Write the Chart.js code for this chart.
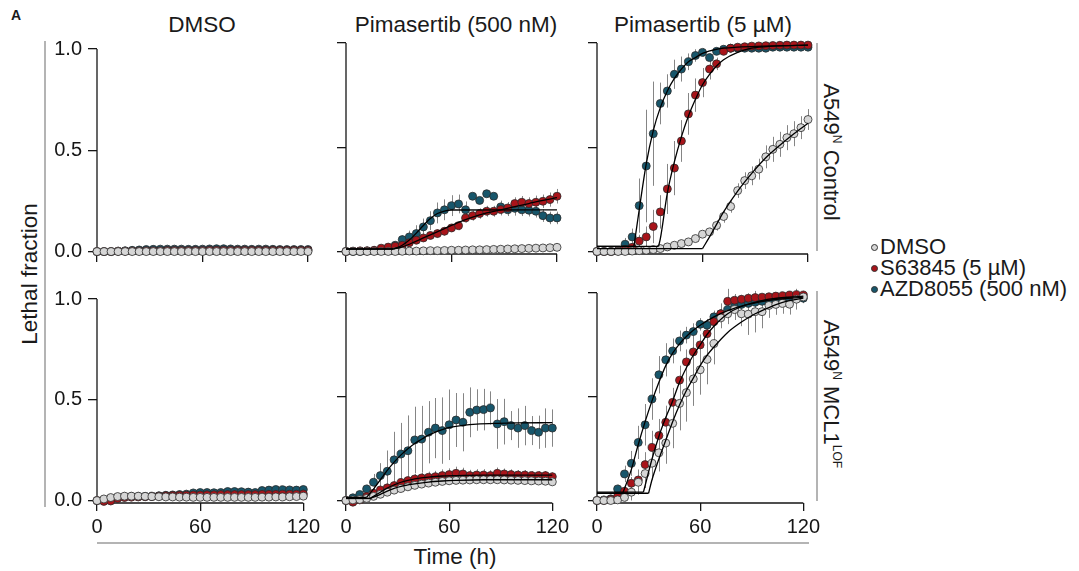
<!DOCTYPE html>
<html><head><meta charset="utf-8">
<script src="https://cdn.jsdelivr.net/npm/chart.js@4/dist/chart.umd.min.js"></script>
<style>
body{margin:0;width:1079px;height:571px;background:#fff;position:relative;overflow:hidden;font-family:"Liberation Sans",Arial,sans-serif;color:#1a1a1a}
.t{position:absolute;white-space:nowrap;line-height:1;transform:translate(-50%,-50%)}
.ln{position:absolute;background:#b4b4b4}
canvas{position:absolute}
sup{font-size:0.55em;vertical-align:0.75em;line-height:0}
.lg{position:absolute;left:871px;font-size:22px;line-height:1;white-space:nowrap}
.dot{display:inline-block;width:5px;height:5px;border-radius:50%;border:0.8px solid #333;margin-right:2px;vertical-align:3px}
</style></head><body>

<div class="t" style="left:16px;top:15px;font-weight:bold;font-size:14px">A</div>
<div class="t" style="left:202px;top:25px;font-size:22.5px">DMSO</div>
<div class="t" style="left:456px;top:25px;font-size:22.5px">Pimasertib (500 nM)</div>
<div class="t" style="left:703px;top:25px;font-size:22.5px">Pimasertib (5 µM)</div>
<div class="t" style="left:831px;top:152px;font-size:22px;transform:translate(-50%,-50%) rotate(90deg)">A549<sup>N</sup> Control</div>
<div class="t" style="left:831px;top:394px;font-size:22px;transform:translate(-50%,-50%) rotate(90deg)">A549<sup>N</sup> MCL1<sup>LOF</sup></div>
<div class="t" style="left:30px;top:274px;font-size:22.5px;transform:translate(-50%,-50%) rotate(-90deg)">Lethal fraction</div>
<div class="t" style="left:455px;top:557px;font-size:22.5px">Time (h)</div>

<div class="ln" style="left:44px;top:41px;width:1.5px;height:466px"></div>
<div class="ln" style="left:97px;top:542px;width:712px;height:1.5px"></div>
<div class="ln" style="left:816px;top:43px;width:1.5px;height:208px"></div>
<div class="ln" style="left:816px;top:291px;width:1.5px;height:210px"></div>

<div id="legend"></div>

<script>
// ---------- categories / ticks ----------
const timesH = [0,4,8,12,16,20,24,28,32,36,40,44,48,52,56,60,64,68,72,76,80,84,88,92,96,100,104,108,112,116,120];
const xTickValues = [0,60,120];
const xTickLabels = ['0','60','120'];
const yTickValues = [0,0.5,1];
const yTickLabels = ['0.0','0.5','1.0'];
const seriesNames = ['DMSO','S63845 (5 µM)','AZD8055 (500 nM)'];
const columnTitles = ['DMSO','Pimasertib (500 nM)','Pimasertib (5 µM)'];

// ---------- A549 Control, DMSO ----------
const ctrlDmso_gray = [0,0,0,0,0,0,0,0,0,0,0,0,0,0,0,0,0,0,0,0,0,0,0,0,0,0,0,0,0,0,0];
const ctrlDmso_grayErr = [0.003,0.003,0.003,0.003,0.003,0.003,0.003,0.003,0.003,0.003,0.003,0.003,0.003,0.003,0.003,0.003,0.003,0.003,0.003,0.003,0.003,0.003,0.003,0.003,0.003,0.003,0.003,0.003,0.003,0.003,0.003];
const ctrlDmso_red = [0,0,0,0.002,0.002,0.003,0.003,0.004,0.004,0.004,0.005,0.005,0.005,0.005,0.005,0.005,0.006,0.006,0.006,0.006,0.006,0.006,0.006,0.006,0.006,0.006,0.006,0.006,0.006,0.006,0.006];
const ctrlDmso_redErr = [0.003,0.003,0.003,0.003,0.003,0.003,0.003,0.003,0.003,0.003,0.003,0.003,0.003,0.003,0.003,0.003,0.003,0.003,0.003,0.003,0.003,0.003,0.003,0.003,0.003,0.003,0.003,0.003,0.003,0.003,0.003];
const ctrlDmso_teal = [0,0,0,0.002,0.004,0.006,0.008,0.01,0.011,0.012,0.012,0.012,0.012,0.011,0.011,0.012,0.013,0.014,0.014,0.013,0.012,0.012,0.011,0.012,0.012,0.011,0.01,0.01,0.01,0.01,0.01];
const ctrlDmso_tealErr = [0.004,0.004,0.004,0.004,0.004,0.004,0.004,0.004,0.004,0.004,0.004,0.004,0.004,0.004,0.004,0.004,0.004,0.004,0.004,0.004,0.004,0.004,0.004,0.004,0.004,0.004,0.004,0.004,0.004,0.004,0.004];

// ---------- A549 Control, Pimasertib 500 nM ----------
const ctrlP500_gray = [0,0,0,0,0,0,0,0,0.001,0.002,0.002,0.003,0.004,0.004,0.005,0.006,0.006,0.007,0.008,0.008,0.009,0.01,0.011,0.012,0.013,0.014,0.015,0.016,0.017,0.018,0.02];
const ctrlP500_grayErr = [0.003,0.003,0.003,0.003,0.003,0.003,0.003,0.003,0.003,0.003,0.003,0.003,0.003,0.003,0.003,0.003,0.003,0.003,0.003,0.003,0.003,0.003,0.003,0.003,0.003,0.003,0.003,0.003,0.003,0.003,0.003];
const ctrlP500_red = [0,0.002,0.003,0.004,0.006,0.016,0.021,0.025,0.03,0.042,0.054,0.065,0.077,0.086,0.097,0.113,0.124,0.161,0.172,0.182,0.193,0.193,0.201,0.209,0.23,0.236,0.23,0.236,0.241,0.249,0.265];
const ctrlP500_redErr = [0,0.002,0.003,0.004,0.005,0.006,0.008,0.01,0.012,0.014,0.015,0.016,0.018,0.02,0.02,0.02,0.022,0.022,0.024,0.025,0.026,0.026,0.028,0.028,0.03,0.03,0.03,0.032,0.032,0.034,0.035];
const ctrlP500_teal = [0,0,0,0.002,0.004,0.008,0.015,0.03,0.057,0.07,0.086,0.118,0.148,0.185,0.2,0.22,0.228,0.2,0.265,0.245,0.277,0.265,0.214,0.2,0.207,0.2,0.198,0.193,0.172,0.161,0.161];
const ctrlP500_tealErr = [0,0.002,0.003,0.004,0.005,0.006,0.008,0.01,0.02,0.03,0.04,0.04,0.045,0.05,0.05,0.05,0.045,0.04,0.012,0.012,0.012,0.012,0.03,0.03,0.035,0.03,0.03,0.03,0.03,0.03,0.03];
const ctrlP500_redFitT = [0,27,32,40,48,56,64,72,80,88,96,104,112,120];
const ctrlP500_redFitV = [0.012,0.012,0.022,0.05,0.08,0.11,0.14,0.165,0.185,0.2,0.215,0.23,0.245,0.258];
const ctrlP500_tealFitT = [0,27,32,36,40,44,48,52,56,60,120];
const ctrlP500_tealFitV = [0.012,0.012,0.03,0.055,0.088,0.125,0.158,0.182,0.194,0.199,0.2];

// ---------- A549 Control, Pimasertib 5 µM ----------
const ctrlP5_gray = [0,0,0,0,0,0.002,0.004,0.006,0.009,0.014,0.022,0.03,0.038,0.046,0.062,0.083,0.094,0.125,0.168,0.216,0.292,0.34,0.363,0.395,0.454,0.49,0.514,0.546,0.565,0.594,0.633];
const ctrlP5_grayErr = [0.002,0.002,0.002,0.002,0.002,0.003,0.003,0.004,0.005,0.006,0.008,0.01,0.01,0.012,0.015,0.018,0.02,0.025,0.03,0.03,0.035,0.04,0.045,0.05,0.055,0.06,0.06,0.06,0.06,0.055,0.05];
const ctrlP5_red = [0,0,0,0.002,0.01,0.02,0.05,0.07,0.12,0.19,0.3,0.4,0.53,0.66,0.75,0.81,0.875,0.9,0.96,0.975,0.98,0.982,0.985,0.986,0.987,0.988,0.989,0.99,0.99,0.99,0.99];
const ctrlP5_redErr = [0.002,0.002,0.002,0.003,0.005,0.01,0.03,0.05,0.08,0.08,0.12,0.13,0.1,0.1,0.08,0.07,0.05,0.03,0.015,0.01,0.008,0.006,0.005,0.005,0.005,0.005,0.004,0.004,0.004,0.004,0.004];
const ctrlP5_teal = [0,0,0,0.005,0.035,0.07,0.22,0.41,0.565,0.71,0.77,0.85,0.875,0.91,0.94,0.955,0.93,0.96,0.97,0.975,0.975,0.975,0.975,0.975,0.975,0.98,0.98,0.98,0.98,0.98,0.98];
const ctrlP5_tealErr = [0.002,0.002,0.002,0.005,0.03,0.04,0.13,0.27,0.25,0.1,0.08,0.07,0.06,0.04,0.03,0.02,0.02,0.015,0.01,0.01,0.01,0.008,0.008,0.008,0.008,0.008,0.006,0.006,0.006,0.006,0.006];
const ctrlP5_grayFitT = [0,60,64,68,72,80,88,96,104,112,120];
const ctrlP5_grayFitV = [0.014,0.014,0.07,0.13,0.19,0.29,0.375,0.45,0.51,0.565,0.615];
const ctrlP5_redFitT = [0,35,36,40,44,48,52,56,60,64,68,72,80,88,100,120];
const ctrlP5_redFitV = [0.025,0.025,0.06,0.28,0.43,0.55,0.65,0.73,0.8,0.85,0.89,0.92,0.955,0.975,0.985,0.99];
const ctrlP5_tealFitT = [0,21,24,28,32,36,40,44,48,52,56,60,68,80,120];
const ctrlP5_tealFitV = [0.025,0.025,0.2,0.42,0.58,0.69,0.77,0.83,0.875,0.91,0.93,0.95,0.97,0.98,0.99];

// ---------- A549 MCL1-LOF, DMSO ----------
const mclDmso_gray = [0,0.008,0.015,0.02,0.022,0.022,0.022,0.021,0.02,0.019,0.018,0.018,0.017,0.017,0.016,0.016,0.016,0.016,0.016,0.016,0.016,0.016,0.016,0.016,0.017,0.017,0.018,0.018,0.019,0.02,0.022];
const mclDmso_grayErr = [0.004,0.004,0.004,0.004,0.004,0.004,0.004,0.004,0.004,0.004,0.004,0.004,0.004,0.004,0.004,0.004,0.004,0.004,0.004,0.004,0.004,0.004,0.004,0.004,0.004,0.004,0.004,0.004,0.004,0.004,0.004];
const mclDmso_red = [0,-0.004,-0.002,0.01,0.015,0.017,0.018,0.019,0.02,0.022,0.024,0.025,0.026,0.027,0.028,0.028,0.029,0.029,0.03,0.03,0.03,0.03,0.03,0.03,0.031,0.031,0.031,0.032,0.032,0.032,0.033];
const mclDmso_redErr = [0.004,0.004,0.004,0.004,0.005,0.005,0.005,0.005,0.005,0.005,0.006,0.006,0.006,0.006,0.006,0.006,0.006,0.006,0.006,0.006,0.006,0.006,0.006,0.006,0.006,0.006,0.006,0.006,0.006,0.006,0.006];
const mclDmso_teal = [0,0.002,0.01,0.015,0.018,0.02,0.02,0.021,0.022,0.024,0.026,0.028,0.03,0.032,0.038,0.04,0.04,0.039,0.04,0.045,0.045,0.044,0.042,0.04,0.05,0.052,0.055,0.054,0.053,0.052,0.055];
const mclDmso_tealErr = [0.004,0.004,0.004,0.005,0.005,0.006,0.006,0.006,0.006,0.007,0.007,0.008,0.008,0.008,0.009,0.01,0.01,0.01,0.01,0.012,0.012,0.012,0.012,0.012,0.014,0.014,0.014,0.014,0.014,0.014,0.014];

// ---------- A549 MCL1-LOF, Pimasertib 500 nM ----------
const mclP500_gray = [0,0.003,0.005,0.01,0.02,0.03,0.04,0.05,0.058,0.066,0.073,0.079,0.084,0.088,0.092,0.095,0.097,0.098,0.099,0.1,0.1,0.1,0.1,0.099,0.098,0.097,0.096,0.095,0.094,0.093,0.09];
const mclP500_grayErr = [0.003,0.004,0.005,0.006,0.007,0.008,0.009,0.01,0.01,0.01,0.01,0.01,0.01,0.01,0.01,0.01,0.01,0.01,0.01,0.01,0.01,0.01,0.01,0.01,0.01,0.01,0.01,0.01,0.01,0.01,0.01];
const mclP500_red = [0,-0.008,0.003,0.019,0.035,0.051,0.061,0.072,0.087,0.096,0.104,0.109,0.112,0.115,0.12,0.125,0.131,0.128,0.12,0.123,0.123,0.12,0.131,0.128,0.125,0.123,0.123,0.12,0.12,0.12,0.115];
const mclP500_redErr = [0.003,0.005,0.008,0.01,0.012,0.015,0.018,0.02,0.022,0.024,0.025,0.026,0.027,0.028,0.03,0.03,0.032,0.03,0.028,0.028,0.028,0.026,0.028,0.026,0.025,0.024,0.024,0.022,0.022,0.022,0.02];
const mclP500_teal = [0,0.013,0.029,0.056,0.088,0.12,0.141,0.196,0.224,0.24,0.292,0.296,0.329,0.349,0.337,0.365,0.388,0.377,0.425,0.436,0.438,0.446,0.369,0.38,0.361,0.349,0.361,0.337,0.329,0.349,0.349];
const mclP500_tealErr = [0,0.005,0.01,0.02,0.04,0.06,0.1,0.135,0.15,0.17,0.16,0.16,0.15,0.145,0.16,0.17,0.13,0.14,0.12,0.1,0.1,0.08,0.12,0.11,0.07,0.095,0.095,0.07,0.08,0.095,0.09];
const mclP500_grayFitT = [0,14,16,20,24,28,32,40,48,56,64,80,120];
const mclP500_grayFitV = [0.01,0.01,0.016,0.03,0.045,0.058,0.068,0.08,0.089,0.094,0.097,0.1,0.1];
const mclP500_redFitT = [0,14,16,20,24,28,32,36,40,48,56,64,80,120];
const mclP500_redFitV = [0.01,0.01,0.02,0.04,0.06,0.075,0.088,0.097,0.104,0.113,0.118,0.12,0.122,0.122];
const mclP500_tealFitT = [0,12,16,20,24,28,32,36,40,44,48,52,56,60,68,76,88,100,120];
const mclP500_tealFitV = [0.015,0.015,0.055,0.1,0.145,0.185,0.22,0.25,0.275,0.295,0.315,0.33,0.342,0.352,0.362,0.368,0.372,0.374,0.375];

// ---------- A549 MCL1-LOF, Pimasertib 5 µM ----------
const mclP5_gray = [0,0,0,0.003,0.015,0.04,0.088,0.13,0.18,0.23,0.277,0.372,0.468,0.52,0.586,0.63,0.68,0.756,0.88,0.9,0.92,0.9,0.898,0.91,0.91,0.94,0.945,0.95,0.946,0.97,0.981];
const mclP5_grayErr = [0.002,0.002,0.003,0.005,0.02,0.04,0.06,0.07,0.08,0.09,0.1,0.12,0.13,0.14,0.13,0.12,0.12,0.1,0.05,0.05,0.05,0.06,0.1,0.1,0.08,0.06,0.05,0.05,0.05,0.05,0.03];
const mclP5_red = [0,0,0.005,0.02,0.045,0.083,0.099,0.173,0.256,0.313,0.377,0.473,0.58,0.668,0.716,0.75,0.804,0.862,0.9,0.96,0.965,0.97,0.975,0.978,0.98,0.982,0.985,0.987,0.99,0.992,0.99];
const mclP5_redErr = [0.002,0.002,0.004,0.01,0.02,0.03,0.05,0.06,0.08,0.08,0.08,0.07,0.07,0.06,0.06,0.05,0.05,0.04,0.05,0.06,0.03,0.02,0.02,0.02,0.015,0.015,0.012,0.01,0.01,0.01,0.01];
const mclP5_teal = [0,0.003,0.008,0.056,0.128,0.179,0.28,0.365,0.489,0.606,0.678,0.721,0.769,0.797,0.814,0.849,0.845,0.885,0.9,0.92,0.935,0.945,0.95,0.955,0.96,0.965,0.968,0.97,0.972,0.974,0.975];
const mclP5_tealErr = [0.002,0.003,0.005,0.02,0.04,0.06,0.08,0.1,0.1,0.09,0.08,0.06,0.05,0.04,0.04,0.03,0.03,0.03,0.02,0.02,0.02,0.015,0.015,0.015,0.012,0.012,0.01,0.01,0.01,0.01,0.01];
const mclP5_grayFitT = [0,30,32,36,40,44,48,52,56,60,64,68,76,84,92,100,108,120];
const mclP5_grayFitV = [0.035,0.035,0.1,0.2,0.29,0.38,0.46,0.53,0.59,0.65,0.7,0.74,0.81,0.86,0.9,0.93,0.955,0.975];
const mclP5_redFitT = [0,27,32,36,40,44,48,52,56,60,64,68,76,84,92,100,120];
const mclP5_redFitV = [0.04,0.04,0.2,0.31,0.4,0.48,0.57,0.64,0.7,0.75,0.8,0.84,0.9,0.935,0.955,0.97,0.985];
const mclP5_tealFitT = [0,15,20,24,28,32,36,40,44,48,52,56,60,68,76,88,100,120];
const mclP5_tealFitV = [0.035,0.035,0.15,0.27,0.38,0.48,0.57,0.65,0.71,0.755,0.79,0.82,0.845,0.885,0.915,0.945,0.965,0.98];

// ---------- styling ----------
const FONT = '"Liberation Sans", Arial, sans-serif';
const COLORS = ['#d6d6d6', '#a8141a', '#17566b'];
const INK = '#161616';

// legend
(function(){
  const lg = document.getElementById('legend');
  const ys = [247, 268, 289];
  seriesNames.forEach((n, i) => {
    const d = document.createElement('div');
    d.className = 'lg';
    d.style.top = (ys[i] - 11) + 'px';
    d.innerHTML = '<span class="dot" style="background:' + COLORS[i] + '"></span>' + n;
    lg.appendChild(d);
  });
})();

const errorBarPlugin = {
  id: 'errbars',
  beforeDatasetsDraw(chart) {
    const ctx = chart.ctx, xs = chart.scales.x, ys = chart.scales.y;
    ctx.save();
    ctx.strokeStyle = '#858585';
    ctx.lineWidth = 1;
    chart.data.datasets.forEach(ds => {
      if (!ds.errs) return;
      ds.data.forEach((p, i) => {
        const e = ds.errs[i];
        if (!e) return;
        const x = Math.round(xs.getPixelForValue(p.x)) + 0.5;
        ctx.beginPath();
        ctx.moveTo(x, ys.getPixelForValue(p.y - e));
        ctx.lineTo(x, ys.getPixelForValue(p.y + e));
        ctx.stroke();
      });
    });
    ctx.restore();
  }
};

const axisLinePlugin = {
  id: 'axlines',
  beforeDatasetsDraw(chart) {
    const ctx = chart.ctx, xs = chart.scales.x, ys = chart.scales.y, a = chart.chartArea;
    ctx.save();
    ctx.strokeStyle = INK;
    ctx.lineWidth = 1.3;
    ctx.beginPath();
    ctx.moveTo(a.left, ys.getPixelForValue(yTickValues[0]));
    ctx.lineTo(a.left, ys.getPixelForValue(yTickValues[yTickValues.length - 1]));
    ctx.moveTo(xs.getPixelForValue(xTickValues[0]), a.bottom);
    ctx.lineTo(xs.getPixelForValue(xTickValues[xTickValues.length - 1]), a.bottom);
    ctx.stroke();
    ctx.restore();
  }
};

const Y_MIN = -0.012;
const PAD_L = 70, PAD_T = 12, PAD_R = 16, PAD_B = 42;

function fitDatasets(T, V) {
  const out = [];
  if (!T) return out;
  const pts = T.map((t, i) => ({x: t, y: V[i]}));
  let start = 0;
  if (pts.length > 2 && V[0] === V[1]) {
    out.push({data: pts.slice(0, 2), showLine: true, pointRadius: 0, borderColor: '#000', borderWidth: 1.3, tension: 0, order: 0, clip: false});
    start = 1;
  }
  out.push({data: pts.slice(start), showLine: true, pointRadius: 0, borderColor: '#000', borderWidth: 1.3, cubicInterpolationMode: 'monotone', order: 0, clip: false});
  return out;
}

function makePanel(left, top, height, showY, showX, vals, errs, fits) {
  const cv = document.createElement('canvas');
  const W = 211;
  cv.width = PAD_L + W + PAD_R;
  cv.height = PAD_T + height + PAD_B;
  cv.style.left = (left - PAD_L) + 'px';
  cv.style.top = (top - PAD_T) + 'px';
  document.body.appendChild(cv);
  const datasets = [];
  fits.forEach(f => { if (f) fitDatasets(f[0], f[1]).forEach(d => datasets.push(d)); });
  vals.forEach((v, k) => {
    datasets.push({
      data: timesH.map((t, i) => ({x: t, y: v[i]})),
      errs: errs[k],
      showLine: false,
      pointRadius: 4,
      pointBackgroundColor: COLORS[k],
      pointBorderColor: '#2b2b2b',
      pointBorderWidth: 0.8,
      order: k + 1,
      clip: false
    });
  });
  new Chart(cv, {
    type: 'scatter',
    data: {datasets},
    options: {
      responsive: false, animation: false, devicePixelRatio: 1,
      layout: {padding: {left: 0, top: PAD_T, right: PAD_R, bottom: 0}},
      plugins: {legend: {display: false}, tooltip: {enabled: false}},
      scales: {
        x: {
          type: 'linear', min: 0, max: 120, position: 'bottom',
          afterFit(s) { s.height = PAD_B; },
          afterBuildTicks(s) { s.ticks = xTickValues.map(v => ({value: v})); },
          grid: {display: true, drawOnChartArea: false, drawTicks: true, tickLength: 8, color: INK, lineWidth: 1.3},
          border: {display: false},
          ticks: {display: showX, padding: 4, maxRotation: 0, autoSkip: false, color: INK,
                  font: {size: 20, family: FONT}, callback: (v, i) => xTickLabels[i]}
        },
        y: {
          type: 'linear', min: Y_MIN, max: 1,
          afterFit(s) { s.width = PAD_L; },
          afterBuildTicks(s) { s.ticks = yTickValues.map(v => ({value: v})); },
          grid: {display: true, drawOnChartArea: false, drawTicks: true, tickLength: 9, color: INK, lineWidth: 1.3},
          border: {display: false},
          ticks: {display: showY, padding: 6, color: INK,
                  font: {size: 20, family: FONT}, callback: (v, i) => yTickLabels[i]}
        }
      }
    },
    plugins: [axisLinePlugin, errorBarPlugin]
  });
}

const colLeft = [97, 346, 597];
const rowTop = [43, 293];
const rowH = [211, 210];

makePanel(colLeft[0], rowTop[0], rowH[0], true, false,
  [ctrlDmso_gray, ctrlDmso_red, ctrlDmso_teal], [ctrlDmso_grayErr, ctrlDmso_redErr, ctrlDmso_tealErr], []);
makePanel(colLeft[1], rowTop[0], rowH[0], false, false,
  [ctrlP500_gray, ctrlP500_red, ctrlP500_teal], [ctrlP500_grayErr, ctrlP500_redErr, ctrlP500_tealErr],
  [[ctrlP500_redFitT, ctrlP500_redFitV], [ctrlP500_tealFitT, ctrlP500_tealFitV]]);
makePanel(colLeft[2], rowTop[0], rowH[0], false, false,
  [ctrlP5_gray, ctrlP5_red, ctrlP5_teal], [ctrlP5_grayErr, ctrlP5_redErr, ctrlP5_tealErr],
  [[ctrlP5_grayFitT, ctrlP5_grayFitV], [ctrlP5_redFitT, ctrlP5_redFitV], [ctrlP5_tealFitT, ctrlP5_tealFitV]]);
makePanel(colLeft[0], rowTop[1], rowH[1], true, true,
  [mclDmso_gray, mclDmso_red, mclDmso_teal], [mclDmso_grayErr, mclDmso_redErr, mclDmso_tealErr], []);
makePanel(colLeft[1], rowTop[1], rowH[1], false, true,
  [mclP500_gray, mclP500_red, mclP500_teal], [mclP500_grayErr, mclP500_redErr, mclP500_tealErr],
  [[mclP500_grayFitT, mclP500_grayFitV], [mclP500_redFitT, mclP500_redFitV], [mclP500_tealFitT, mclP500_tealFitV]]);
makePanel(colLeft[2], rowTop[1], rowH[1], false, true,
  [mclP5_gray, mclP5_red, mclP5_teal], [mclP5_grayErr, mclP5_redErr, mclP5_tealErr],
  [[mclP5_grayFitT, mclP5_grayFitV], [mclP5_redFitT, mclP5_redFitV], [mclP5_tealFitT, mclP5_tealFitV]]);
</script>
</body></html>
